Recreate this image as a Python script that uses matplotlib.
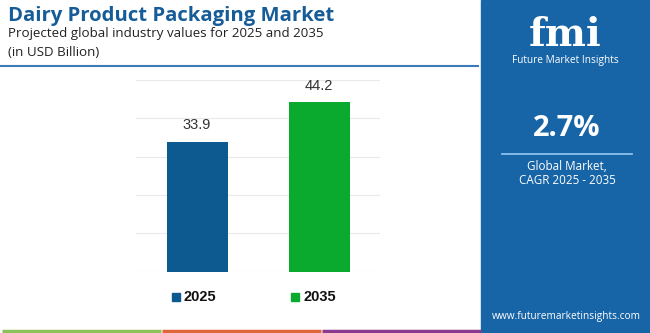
import matplotlib
matplotlib.use("Agg")
import matplotlib.pyplot as plt
from matplotlib.patches import Rectangle
from matplotlib.lines import Line2D

# Data
categories = ["2025", "2035"]
values = [33.9, 44.2]
bar_colors = ["#0d5a91", "#09aa2e"]
title = "Dairy Product Packaging Market"
subtitle = "Projected global industry values for 2025 and 2035"
unit = "(in USD Billion)"
cagr = "2.7%"
cagr_label = ["Global Market,", "CAGR 2025 - 2035"]
url = "www.futuremarketinsights.com"

W, H = 650, 333
fig = plt.figure(figsize=(W / 100, H / 100), dpi=100)
fig.patch.set_facecolor("white")

def fx(px):
    return px / W

def fy(py):
    return 1 - py / H

# Chart axes
ax = fig.add_axes([fx(136), fy(271.7), fx(380) - fx(136), fy(80) - fy(271.7)])
x = list(range(len(categories)))
ax.bar(x, values, width=0.5, color=bar_colors, zorder=3)
ax.set_xlim(-0.5, 1.5)
ax.set_ylim(0, 50)
ax.set_yticks([0, 10, 20, 30, 40, 50])
ax.grid(axis="y", color="#e9e9e9", linewidth=0.8, zorder=0)
ax.set_xticks([])
ax.tick_params(left=False, labelleft=False)
for s in ax.spines.values():
    s.set_visible(False)
for xi, v in zip(x, values):
    ax.annotate(f"{v}", (xi, v), xytext=(0, 7), textcoords="offset points",
                ha="center", va="bottom", fontsize=10.5, color="#333333",
                family="Liberation Sans")

# Legend
for cat, col, sx in zip(categories, bar_colors, [176, 295]):
    fig.patches.append(Rectangle((fx(sx - 4), fy(301)), fx(8), fy(293) - fy(301),
                                 transform=fig.transFigure, color=col))
    fig.text(fx(sx + 8), fy(297), cat, fontsize=10.5, fontweight="bold",
             color="#111111", va="center", ha="left", family="Liberation Sans")

# Titles
fig.text(fx(8), fy(16.5), title, fontsize=14.6, fontweight="bold", color="#165c98",
         va="center", ha="left", family="Open Sans")
fig.text(fx(8), fy(34), subtitle, fontsize=9.6, color="#222222",
         va="center", ha="left", family="Open Sans")
fig.text(fx(8), fy(52), unit, fontsize=9.6, color="#222222",
         va="center", ha="left", family="Open Sans")
fig.add_artist(Line2D([fx(0), fx(478)], [fy(66), fy(66)], color="#3b7bb8",
                      linewidth=1.5, transform=fig.transFigure))

# Bottom colored lines
for x0, x1, col in [(2, 161, "#8dc15a"), (162, 321, "#e0663a"), (322, 481, "#8a3a8f")]:
    fig.add_artist(Line2D([fx(x0), fx(x1)], [fy(330.5), fy(330.5)], color=col,
                          linewidth=2.5, transform=fig.transFigure, solid_capstyle="butt"))

# Right panel
fig.patches.append(Rectangle((fx(481), 0), fx(650) - fx(481), 1,
                             transform=fig.transFigure, color="#1764a6", zorder=0))
fig.text(fx(565), fy(46), "fmi", fontsize=28, fontweight="bold", color="white",
         va="baseline", ha="center", family="DejaVu Serif")
fig.text(fx(565), fy(61), "Future Market Insights", fontsize=7.3, color="white",
         va="center", ha="center", family="Open Sans")
fig.text(fx(567), fy(129), cagr, fontsize=21, fontweight="bold", color="white",
         va="center", ha="center", family="Open Sans")
fig.add_artist(Line2D([fx(502), fx(632)], [fy(154), fy(154)], color="#8cc0ec",
                      linewidth=1.3, transform=fig.transFigure))
fig.text(fx(567), fy(166), cagr_label[0], fontsize=8.4, color="white",
         va="center", ha="center", family="Open Sans")
fig.text(fx(567), fy(181), cagr_label[1], fontsize=8.4, color="white",
         va="center", ha="center", family="Open Sans")
fig.text(fx(566), fy(317), url, fontsize=7.3, color="white",
         va="center", ha="center", family="Open Sans")

fig.savefig("out.png", dpi=100, facecolor="white")
